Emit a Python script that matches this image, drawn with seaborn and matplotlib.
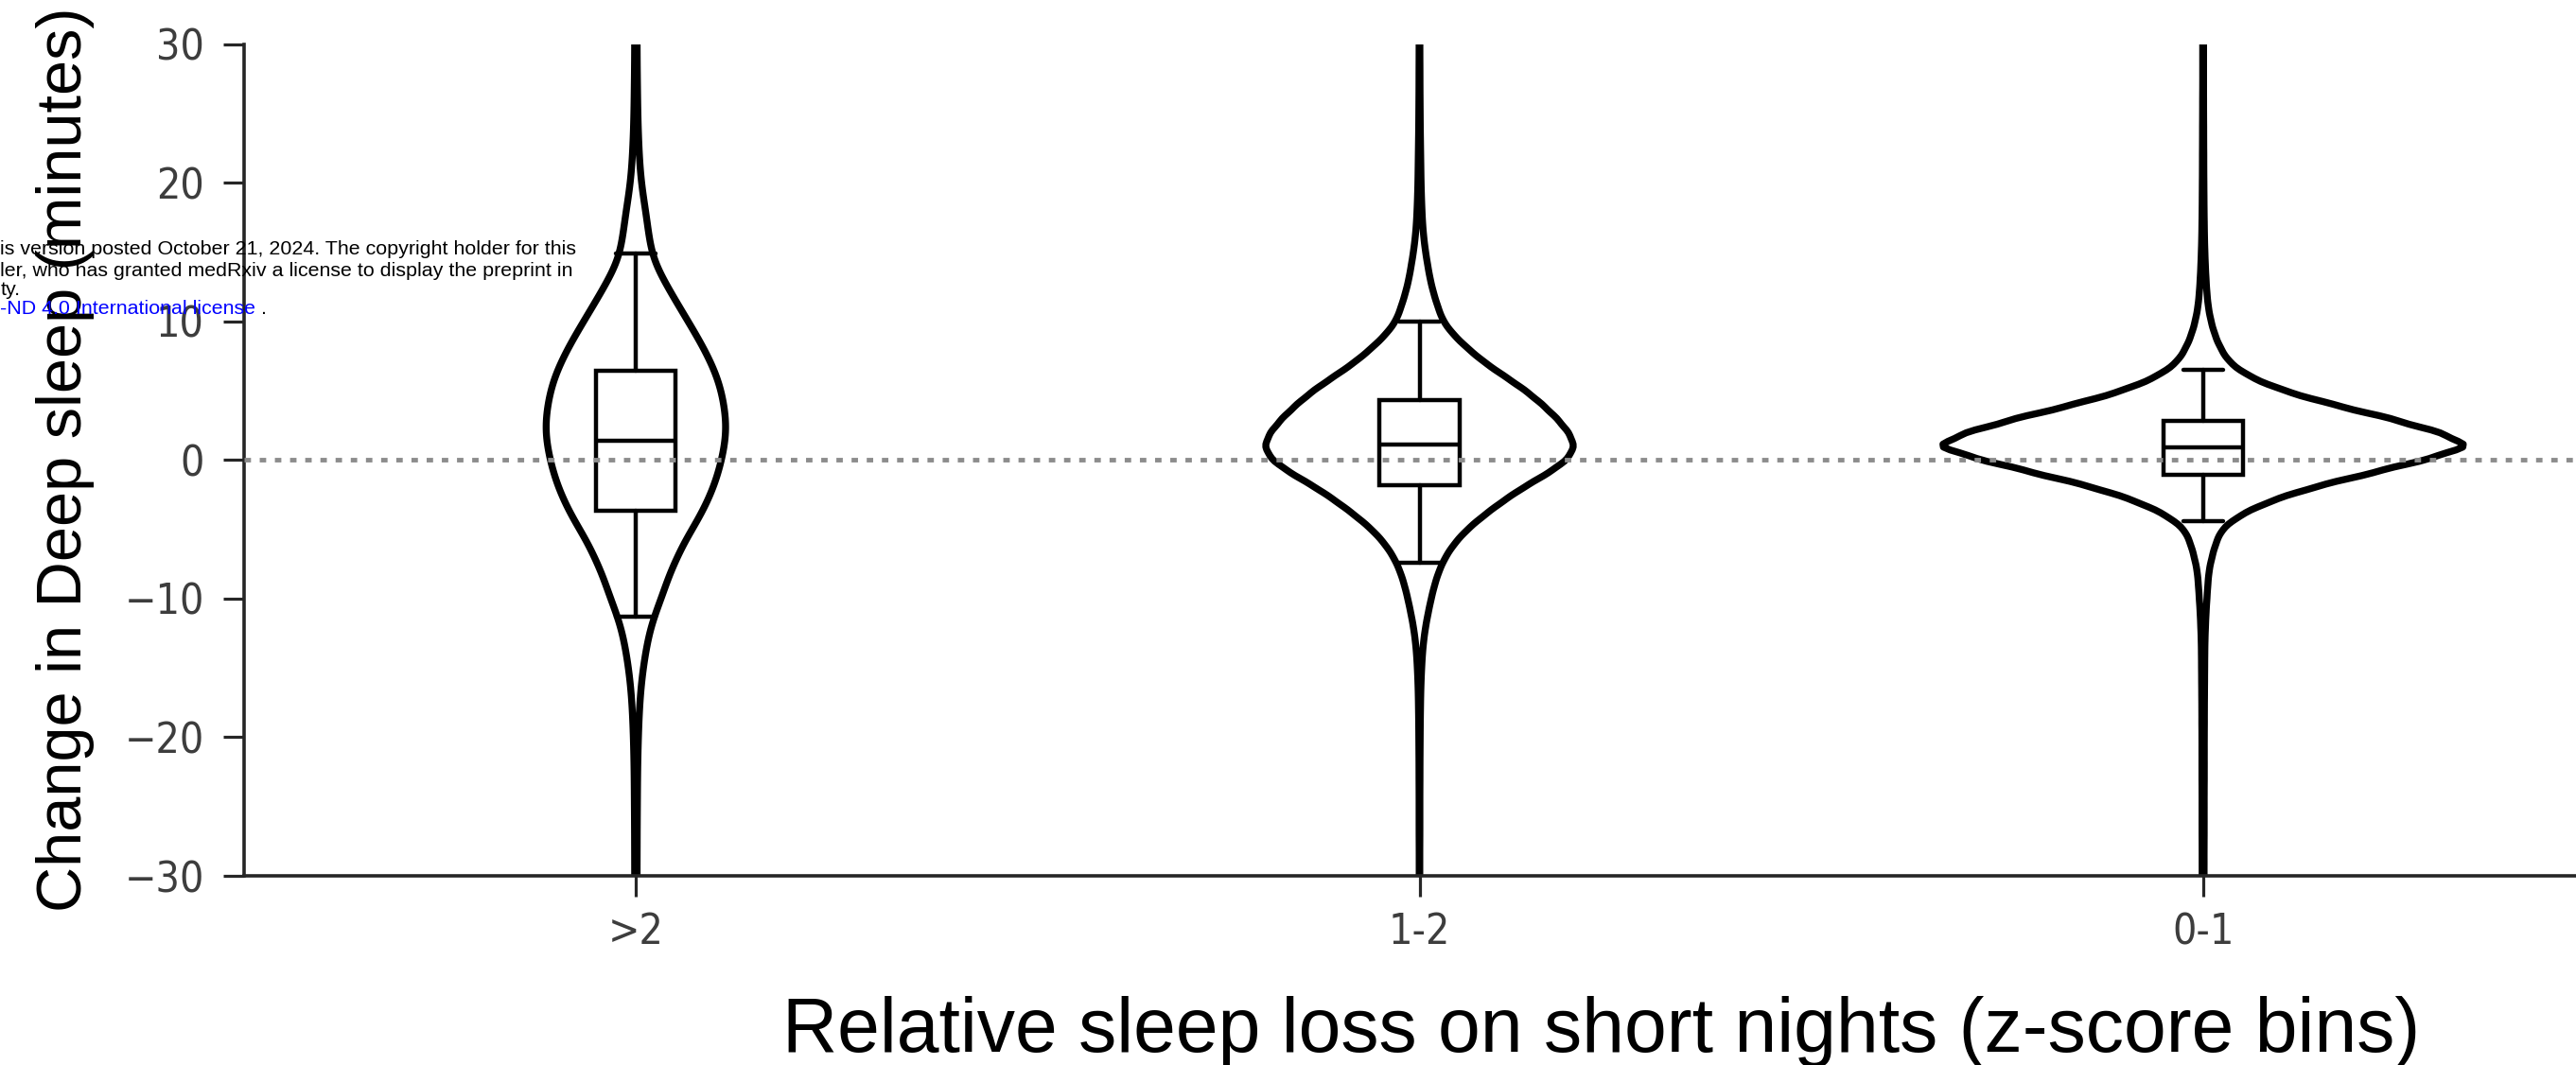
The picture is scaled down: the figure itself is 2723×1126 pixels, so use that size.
import numpy as np
import pandas as pd
import matplotlib
matplotlib.use("Agg")
import matplotlib.pyplot as plt
from matplotlib import font_manager
import seaborn as sns

# ---------------------------------------------------------------------------
# Data: change in deep sleep (minutes), binned at 1-minute resolution,
# for each z-score bin of relative sleep loss on short nights.
# ---------------------------------------------------------------------------
categories = [">2", "1-2", "0-1"]
bin_minutes = np.arange(-40, 41)  # bin centres, minutes

counts_gt2 = [
    10, 10, 11, 11, 11, 12, 12, 12, 13, 13,            # -40 .. -31
    13, 13, 14, 14, 15, 16, 17, 18, 20, 23,            # -30 .. -21
    27, 32, 39, 48, 62, 80, 103, 130, 165, 215,        # -20 .. -11
    275, 325, 380, 450, 520, 610, 700, 775, 840, 890,  # -10 .. -1
    930, 960, 980, 975, 955, 925, 880, 815, 740, 655,  #   0 .. 9
    565, 475, 385, 300, 220, 170, 145, 125, 105, 80,   #  10 .. 19
    60, 46, 37, 30, 25, 21, 19, 17, 15, 14,            #  20 .. 29
    13, 13, 12, 12, 12, 11, 11, 11, 10, 10, 10,        #  30 .. 40
]
counts_1_2 = [
    3, 3, 3, 3, 3, 3, 3, 3, 3, 3,
    3, 3, 3, 4, 4, 4, 4, 5, 5, 6,
    7, 8, 10, 12, 16, 22, 30, 43, 63, 90,
    120, 155, 200, 265, 360, 490, 660, 850, 1060, 1310,
    1520, 1600, 1530, 1410, 1260, 1090, 880, 670, 500, 350,
    240, 190, 145, 110, 85, 62, 44, 32, 25, 20,
    16, 14, 12, 10, 8, 7, 6, 5, 5, 4,
    4, 3, 3, 3, 3, 3, 3, 3, 3, 3, 3,
]
counts_0_1 = [
    9, 9, 9, 9, 9, 9, 9, 9, 9, 9,
    10, 10, 10, 11, 11, 11, 11, 12, 12, 12,
    12, 13, 13, 14, 15, 16, 17, 19, 24, 30,
    39, 48, 60, 90, 130, 190, 370, 670, 1100, 1680,
    2250, 2750, 2400, 1900, 1310, 810, 470, 270, 180, 120,
    80, 53, 39, 30, 23, 18, 14, 12, 10, 9,
    8, 7, 7, 6, 6, 5, 5, 4, 4, 4,
    4, 3, 3, 3, 3, 3, 3, 3, 3, 3, 3,
]

# Box summary per bin (minutes)
box_whisker_low = [-11.3, -7.45, -4.4]
box_q1 = [-3.7, -1.85, -1.05]
box_median = [1.4, 1.1, 0.9]
box_q3 = [6.4, 4.3, 2.8]
box_whisker_high = [14.9, 10.0, 6.5]

y_ticks = [-30, -20, -10, 0, 10, 20, 30]

x_label = "Relative sleep loss on short nights (z-score bins)"
y_label = "Change in Deep sleep (minutes)"

notice_lines = [
    "is version posted October 21, 2024. The copyright holder for this",
    "ler, who has granted medRxiv a license to display the preprint in",
    "ty.",
]
notice_link = "-ND 4.0 International license"
notice_end = " ."

# ---------------------------------------------------------------------------
# Long-format table of observations
# ---------------------------------------------------------------------------
frames = []
for cat, counts in zip(categories, [counts_gt2, counts_1_2, counts_0_1]):
    vals = np.repeat(bin_minutes, counts)
    frames.append(pd.DataFrame({"zbin": cat, "change": vals}))
df = pd.concat(frames, ignore_index=True)

# ---------------------------------------------------------------------------
# Fonts
# ---------------------------------------------------------------------------
sns.set_style("ticks")
names = {f.name for f in font_manager.fontManager.ttflist}
tick_family = "DejaVu Sans Condensed" if "DejaVu Sans Condensed" in names else "DejaVu Sans"
plt.rcParams["font.family"] = [tick_family, "DejaVu Sans"]
plt.rcParams["font.stretch"] = "condensed"
has_narrow = "Liberation Sans Narrow" in names
plain = dict(family="Liberation Sans", fontstretch="normal")

W, H = 2723, 1126
fig = plt.figure(figsize=(W / 100, H / 100), dpi=100)
fig.patch.set_facecolor("white")

left_px, right_px, top_px, bottom_px = 258, 2743, 46.5, 926
ax = fig.add_axes([left_px / W, 1 - bottom_px / H,
                   (right_px - left_px) / W, (bottom_px - top_px) / H])
ax.set_facecolor("white")

# Violins (kernel density of each bin's observations)
sns.violinplot(
    data=df, x="zbin", y="change", order=categories,
    inner=None, color="white", saturation=1,
    linecolor="black", linewidth=5.3,
    width=0.664, density_norm="area", cut=2, gridsize=400,
    bw_adjust=0.72, ax=ax,
)

# Box-and-whisker summaries on top of the violins
stats = [
    dict(med=m, q1=a, q3=b, whislo=lo, whishi=hi, label=c)
    for c, lo, a, m, b, hi in zip(categories, box_whisker_low, box_q1,
                                  box_median, box_q3, box_whisker_high)
]
ax.bxp(
    stats, positions=range(len(categories)), widths=0.102,
    patch_artist=True, showfliers=False, manage_ticks=False,
    boxprops=dict(facecolor="white", edgecolor="black", linewidth=3.2),
    medianprops=dict(color="black", linewidth=3.2),
    whiskerprops=dict(color="black", linewidth=3.2),
    capprops=dict(color="black", linewidth=3.2),
)

# Zero-change reference line
ax.axhline(0, color="#8c8c8c", linewidth=3.5, linestyle=(0, (1.4, 1.9)), zorder=5)

ax.set_xlim(-0.5, 2.5)
ax.set_ylim(-30, 30)
ax.set_yticks(y_ticks)
sns.despine(ax=ax)
for side in ("left", "bottom"):
    ax.spines[side].set_color("#262626")
    ax.spines[side].set_linewidth(2.6)

ax.tick_params(axis="both", length=15.5, width=2.3, color="#262626",
               labelcolor="#3d3d3d", labelsize=32)
ax.tick_params(axis="y", pad=15)
ax.tick_params(axis="x", pad=12)

# Axis labels
ylab_family = "Liberation Sans Narrow" if has_narrow else "Liberation Sans"
ylab_size = 58 if has_narrow else 48
ax.set_ylabel(y_label, fontsize=ylab_size, family=ylab_family,
              fontstretch="condensed" if has_narrow else "normal", color="black")
ax.yaxis.set_label_coords((100 - left_px) / (right_px - left_px), 0.5)

ax.set_xlabel(x_label, fontsize=58, color="black", va="baseline", **plain)
ax.xaxis.set_label_coords((1693 - left_px) / (right_px - left_px),
                          (bottom_px - 1112) / (bottom_px - top_px))

# Licence notice overlay
baselines = [269, 291.5, 311.5]
for line, yb in zip(notice_lines, baselines):
    fig.text(0.5 / W, 1 - yb / H, line, fontsize=15.4, color="black",
             va="baseline", ha="left", **plain)
link = fig.text(0.5 / W, 1 - (331.5 + 4.5) / H, notice_link, fontsize=15.4,
                color="#0000ff", va="bottom", ha="left", **plain)
ax.annotate(notice_end, xy=(1, 0), xycoords=link, va="bottom", ha="left",
            fontsize=15.4, color="black", annotation_clip=False, **plain)

fig.savefig("out.png", dpi=100, facecolor="white")
